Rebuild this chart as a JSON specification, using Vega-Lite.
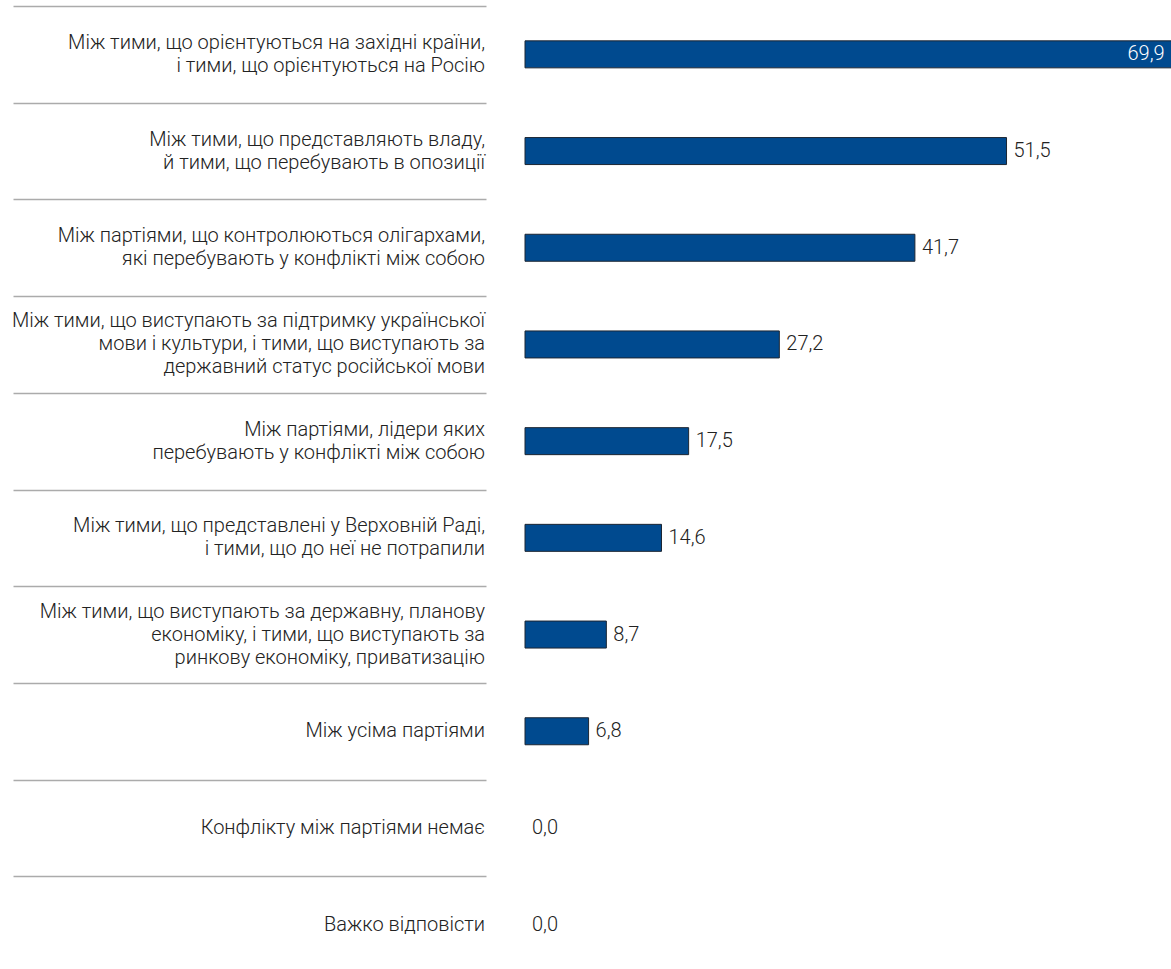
{
  "$schema": "https://vega.github.io/schema/vega-lite/v6.json",
  "padding": {"left": 12, "top": 6, "right": 0, "bottom": 0},
  "background": "white",
  "config": {
    "view": {"stroke": null},
    "font": "Roboto",
    "locale": {"number": {"decimal": ",", "thousands": " ", "grouping": [3], "currency": ["", " ₴"]}},
    "concat": {"spacing": 38}
  },
  "data": {"values": [
    {"cat": "Між тими, що орієнтуються на західні країни,|і тими, що орієнтуються на Росію", "value": 69.9},
    {"cat": "Між тими, що представляють владу,|й тими, що перебувають в опозиції", "value": 51.5},
    {"cat": "Між партіями, що контролюються олігархами,|які перебувають у конфлікті між собою", "value": 41.7},
    {"cat": "Між тими, що виступають за підтримку української|мови і культури, і тими, що виступають за|державний статус російської мови", "value": 27.2},
    {"cat": "Між партіями, лідери яких|перебувають у конфлікті між собою", "value": 17.5},
    {"cat": "Між тими, що представлені у Верховній Раді,|і тими, що до неї не потрапили", "value": 14.6},
    {"cat": "Між тими, що виступають за державну, планову|економіку, і тими, що виступають за|ринкову економіку, приватизацію", "value": 8.7},
    {"cat": "Між усіма партіями", "value": 6.8},
    {"cat": "Конфлікту між партіями немає", "value": 0.0},
    {"cat": "Важко відповісти", "value": 0.0}
  ]},
  "hconcat": [
    {
      "width": 473,
      "height": 967,
      "mark": {"type": "text", "align": "right", "baseline": "middle", "lineBreak": "|", "fontSize": 20, "fontWeight": 300, "lineHeight": 23, "color": "#222222", "dx": -1,
               "dy": {"expr": "-(length(split(datum.cat, '|')) - 1) * 11.5"}},
      "encoding": {
        "y": {"field": "cat", "type": "nominal", "sort": null,
              "scale": {"paddingInner": 0, "paddingOuter": 0},
              "axis": {"title": null, "labels": false, "ticks": false, "domain": false, "grid": true, "tickBand": "extent", "gridColor": "#ababab", "gridWidth": 1.5}},
        "x": {"datum": 1, "type": "quantitative", "scale": {"domain": [0, 1]}, "axis": null},
        "text": {"field": "cat"}
      }
    },
    {
      "width": 654.5,
      "height": 967,
      "encoding": {
        "y": {"field": "cat", "type": "nominal", "sort": null,
              "scale": {"paddingInner": 0, "paddingOuter": 0},
              "axis": null},
        "x": {"field": "value", "type": "quantitative", "scale": {"domain": [0, 70], "nice": false}, "axis": null}
      },
      "layer": [
        {"transform": [{"filter": "datum.value > 0"}],
         "mark": {"type": "bar", "height": 27, "color": "#004a8f", "stroke": "#1c2633", "strokeWidth": 1}},
        {"transform": [{"filter": "datum.value < 60"}],
         "mark": {"type": "text", "align": "left", "baseline": "middle", "dx": 7, "fontSize": 20, "fontWeight": 300, "color": "#222222"},
         "encoding": {"text": {"field": "value", "type": "quantitative", "format": ".1f"}}},
        {"transform": [{"filter": "datum.value >= 60"}],
         "mark": {"type": "text", "align": "right", "baseline": "middle", "dx": -14, "fontSize": 20, "fontWeight": 300, "color": "#ffffff"},
         "encoding": {"text": {"field": "value", "type": "quantitative", "format": ".1f"}}}
      ]
    }
  ]
}
